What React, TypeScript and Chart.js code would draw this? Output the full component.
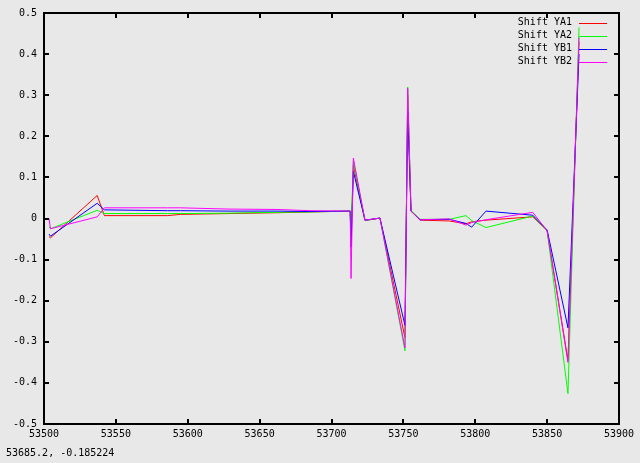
import React, { useEffect, useRef } from "react";
import { Chart, registerables } from "chart.js";

Chart.register(...registerables);

// Observation dates (MJD)
const dates = [
  53503.5, 53504.5, 53537, 53542, 53586, 53595, 53628, 53662, 53685, 53713,
  53713.6, 53715.2, 53723.3, 53733.7, 53751.1, 53753, 53755.3, 53761.6, 53782,
  53793.5, 53797.5, 53807.5, 53840, 53850, 53864.5, 53872.2,
];

const shiftYA1 = [
  -0.044, -0.047, 0.056, 0.007, 0.007, 0.01, 0.012, 0.014, 0.016, 0.018,
  -0.05, 0.13, -0.005, 0.001, -0.29, 0.3, 0.018, -0.004, -0.006,
  -0.013, -0.008, -0.004, 0.004, -0.03, -0.345, 0.43,
];
const shiftYA2 = [
  -0.02, -0.025, 0.02, 0.012, 0.012, 0.012, 0.013, 0.015, 0.016, 0.018,
  -0.04, 0.14, -0.005, 0.001, -0.322, 0.32, 0.02, -0.002, -0.002,
  0.007, -0.005, -0.022, 0.006, -0.03, -0.426, 0.465,
];
const shiftYB1 = [
  -0.038, -0.043, 0.037, 0.021, 0.019, 0.019, 0.018, 0.018, 0.017, 0.018,
  -0.07, 0.115, -0.004, 0.001, -0.26, 0.26, 0.018, -0.003, -0.002,
  -0.012, -0.021, 0.018, 0.008, -0.028, -0.266, 0.4,
];
const shiftYB2 = [
  0.0, -0.025, 0.004, 0.026, 0.026, 0.026, 0.023, 0.022, 0.019, 0.018,
  -0.146, 0.147, -0.004, 0.001, -0.315, 0.317, 0.018, -0.003, -0.001,
  -0.016, -0.01, -0.003, 0.015, -0.03, -0.35, 0.44,
];

const seriesNames = ["Shift YA1", "Shift YA2", "Shift YB1", "Shift YB2"];
const seriesValues = [shiftYA1, shiftYA2, shiftYB1, shiftYB2];
const seriesColors = ["#ff0000", "#00ff00", "#0000ff", "#ff00ff"];

const xTicks = [53500, 53550, 53600, 53650, 53700, 53750, 53800, 53850, 53900];
const yTicks = [-0.5, -0.4, -0.3, -0.2, -0.1, 0, 0.1, 0.2, 0.3, 0.4, 0.5];
const statusText = "53685.2, -0.185224";

const FONT = "10px 'DejaVu Sans Mono', monospace";

const gnuplotPlugin = {
  id: "gnuplotFrame",
  afterDatasetsDraw(chart: any) {
    const { ctx, chartArea, scales } = chart;
    const { left, right, top, bottom } = chartArea;
    const x = scales.x;
    const y = scales.y;
    ctx.save();
    ctx.strokeStyle = "#000";
    ctx.lineWidth = 2;
    ctx.beginPath();
    for (const v of xTicks) {
      const px = Math.round(x.getPixelForValue(v));
      ctx.moveTo(px, bottom);
      ctx.lineTo(px, bottom - 5);
      ctx.moveTo(px, top);
      ctx.lineTo(px, top + 5);
    }
    for (const v of yTicks) {
      const py = Math.round(y.getPixelForValue(v));
      ctx.moveTo(left, py);
      ctx.lineTo(left + 5, py);
      ctx.moveTo(right, py);
      ctx.lineTo(right - 5, py);
    }
    ctx.stroke();
    ctx.strokeRect(left, top, right - left, bottom - top);

    // Key
    ctx.font = FONT;
    ctx.textAlign = "right";
    ctx.textBaseline = "middle";
    ctx.lineWidth = 1;
    const keyTextRight = right - 47;
    const lineStart = right - 40;
    const lineEnd = right - 12;
    seriesNames.forEach((name, i) => {
      const cy = top + 9.5 + i * 13;
      ctx.fillStyle = "#000";
      ctx.fillText(name, keyTextRight, cy);
      ctx.strokeStyle = seriesColors[i];
      ctx.beginPath();
      ctx.moveTo(lineStart, Math.round(cy) + 0.5);
      ctx.lineTo(lineEnd, Math.round(cy) + 0.5);
      ctx.stroke();
    });

    // Status line
    ctx.textAlign = "left";
    ctx.textBaseline = "middle";
    ctx.fillStyle = "#000";
    ctx.fillText(statusText, 6, chart.height - 10);
    ctx.restore();
  },
};

export default function App() {
  const canvasRef = useRef<HTMLCanvasElement | null>(null);

  useEffect(() => {
    if (!canvasRef.current) return;
    const datasets = seriesNames.map((name, i) => ({
      label: name,
      data: dates.map((d, j) => ({ x: d, y: seriesValues[i][j] })),
      borderColor: seriesColors[i],
      backgroundColor: seriesColors[i],
      borderWidth: 1,
      pointRadius: 0,
      tension: 0,
      fill: false,
      order: seriesNames.length - i,
    }));
    const chart = new Chart(canvasRef.current, {
      type: "line",
      data: { datasets },
      options: {
        animation: false,
        responsive: false,
        maintainAspectRatio: false,
        layout: { padding: { top: 8, right: 21, left: 0, bottom: 0 } },
        plugins: {
          legend: { display: false },
          tooltip: { enabled: false },
        },
        scales: {
          x: {
            type: "linear",
            min: 53500,
            max: 53900,
            afterBuildTicks: (scale: any) => {
              scale.ticks = xTicks.map((v) => ({ value: v }));
            },
            afterFit: (scale: any) => {
              scale.height = 39;
            },
            grid: { display: false, drawTicks: false },
            border: { display: false },
            ticks: {
              color: "#000",
              font: { family: "'DejaVu Sans Mono', monospace", size: 10 },
              padding: 4,
              maxRotation: 0,
              autoSkip: false,
              callback: (v: any) => String(v),
            },
          },
          y: {
            type: "linear",
            min: -0.5,
            max: 0.5,
            afterBuildTicks: (scale: any) => {
              scale.ticks = yTicks.map((v) => ({ value: v }));
            },
            afterFit: (scale: any) => {
              scale.width = 44;
            },
            grid: { display: false, drawTicks: false },
            border: { display: false },
            ticks: {
              color: "#000",
              font: { family: "'DejaVu Sans Mono', monospace", size: 10 },
              padding: 7,
              autoSkip: false,
              callback: (v: any) => {
                const r = Math.round(Number(v) * 10) / 10;
                return r === 0 ? "0" : String(r);
              },
            },
          },
        },
      },
      plugins: [gnuplotPlugin],
    });
    return () => chart.destroy();
  }, []);

  return (
    <div
      style={{
        position: "fixed",
        left: 0,
        top: 0,
        width: 640,
        height: 463,
        background: "#e8e8e8",
      }}
    >
      <canvas ref={canvasRef} width={640} height={463} style={{ display: "block" }} />
    </div>
  );
}
